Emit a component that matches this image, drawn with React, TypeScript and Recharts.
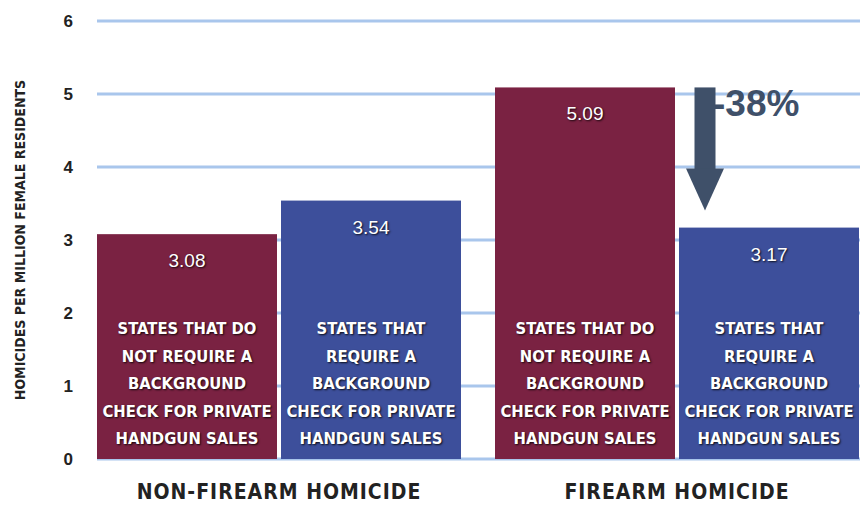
import React from 'react'
import { BarChart, Bar, XAxis, YAxis, CartesianGrid } from 'recharts'

const groups = ['NON-FIREARM HOMICIDE', 'FIREARM HOMICIDE']
const noCheck = [3.08, 5.09]
const withCheck = [3.54, 3.17]
const yTicks = [0, 1, 2, 3, 4, 5, 6]
const noCheckLines = ['STATES THAT DO', 'NOT REQUIRE A', 'BACKGROUND', 'CHECK FOR PRIVATE', 'HANDGUN SALES']
const withCheckLines = ['STATES THAT', 'REQUIRE A', 'BACKGROUND', 'CHECK FOR PRIVATE', 'HANDGUN SALES']

const RED = '#7a2242'
const BLUE = '#3d4f9b'
const SLATE = '#3f5069'
const GRID = '#a9c6ec'
const NARROW = '"Liberation Sans Narrow", "DejaVu Sans Condensed", "Arial Narrow", sans-serif'

const data = groups.map((g, i) => ({ group: g, noCheck: noCheck[i], withCheck: withCheck[i] }))

const pct = Math.round(((withCheck[1] - noCheck[1]) / noCheck[1]) * 100)

function barShape(lines: string[], fill: string, withArrow: boolean) {
  return (props: any) => {
    const { x, y, width, height, value, index, payload } = props
    const v = Array.isArray(value) ? value[1] - value[0] : value
    const base = y + height
    const cx = x + width / 2
    const shadow = '1px 1px 2px rgba(0,0,0,0.85)'
    let arrow = null
    if (withArrow && index === 1) {
      const unit = height / v
      const top = base - payload.noCheck * unit
      const ax = x + 26
      const tip = y - 17
      const headTop = tip - 42
      arrow = (
        <g>
          <rect x={ax - 10.5} y={top} width={21} height={headTop - top + 1} fill={SLATE} />
          <polygon points={`${ax - 19},${headTop} ${ax + 19},${headTop} ${ax},${tip}`} fill={SLATE} />
          <text x={ax + 8} y={top + 29} fill={SLATE} fontSize={37} fontWeight={700}
            fontFamily='"Liberation Sans", Arial, sans-serif'>{`${pct}%`}</text>
        </g>
      )
    }
    return (
      <g>
        <rect x={x} y={y} width={width} height={height} fill={fill} />
        <text x={cx} y={y + 33} textAnchor="middle" fill="#fff" fontSize={19}
          fontFamily='"Liberation Sans", Arial, sans-serif' style={{ textShadow: shadow }}>
          {v.toFixed(2)}
        </text>
        {lines.map((l, i) => (
          <text key={i} x={cx} y={base - 125 + i * 27.6} textAnchor="middle" fill="#fff"
            fontSize={16.5} fontWeight={700} fontFamily={NARROW} style={{ textShadow: shadow }}>
            {l}
          </text>
        ))}
        {arrow}
      </g>
    )
  }
}

const gridLine = (props: any) => (
  <line key={props.key ?? props.y1} x1={props.x1 + 17} x2={props.x2} y1={props.y1} y2={props.y2}
    stroke={GRID} strokeWidth={3} />
)

const XTick = (props: any) => {
  const { x, y, payload } = props
  return (
    <text x={x} y={y + 32} textAnchor="middle" fill="#222" fontSize={21} fontWeight={700}
      fontFamily={NARROW} letterSpacing={1}>
      {payload.value}
    </text>
  )
}

const YLabel = () => (
  <text x={0} y={0} transform="translate(25,240) rotate(-90)" textAnchor="middle" fill="#222"
    fontSize={14} fontWeight={700} fontFamily={NARROW}>
    HOMICIDES PER MILLION FEMALE RESIDENTS
  </text>
)

export default function App() {
  return (
    <div style={{ position: 'absolute', left: 0, top: 0, width: 860, height: 506, overflow: 'hidden', background: '#fff' }}>
      <BarChart width={876} height={506} data={data} margin={{ top: 21, right: 0, bottom: 0, left: 0 }}
        barSize={180} barGap={4}>
        <CartesianGrid vertical={false} horizontal={gridLine} />
        <XAxis dataKey="group" height={47} axisLine={false} tickLine={false} tick={<XTick />} interval={0} />
        <YAxis width={80} domain={[0, 6]} ticks={yTicks} axisLine={false} tickLine={false} tickSize={0}
          tickMargin={7} tick={{ fill: '#222', fontSize: 17, fontWeight: 700, fontFamily: '"Liberation Sans", Arial, sans-serif' }}
          label={<YLabel />} />
        <Bar dataKey="noCheck" isAnimationActive={false} shape={barShape(noCheckLines, RED, false)} />
        <Bar dataKey="withCheck" isAnimationActive={false} shape={barShape(withCheckLines, BLUE, true)} />
      </BarChart>
    </div>
  )
}
